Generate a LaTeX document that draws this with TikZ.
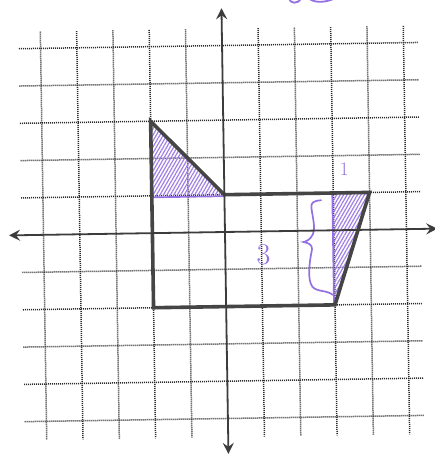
\documentclass[tikz,border=0pt]{standalone}
\usetikzlibrary{arrows.meta,patterns.meta}
\definecolor{gridc}{HTML}{2A2A2A}
\definecolor{axisc}{HTML}{3C3C3C}
\definecolor{polyc}{HTML}{454545}
\definecolor{purp}{HTML}{9470E2}
\tikzset{
  gridline/.style={gridc, line width=1.5pt, dash pattern=on 1pt off 1pt},
  axisline/.style={axisc, line width=1.8pt, -{Stealth[length=11pt,width=11pt,inset=4pt]}},
  polyline/.style={polyc, line width=3.6pt, line join=miter},
  purpline/.style={purp, line width=1.7pt, line cap=round},
  hatch/.style={pattern={Lines[angle=60,distance=3pt,line width=1.2pt]}, pattern color=purp!90},
  lbl/.style={purp, inner sep=0pt}
}
\begin{document}
\begin{tikzpicture}[x=36.3pt,y=37.3pt]
\useasboundingbox[fill=white] (-6.198,-5.952) rectangle (5.785,6.22);
\clip (-6.198,-5.952) rectangle (5.785,6.22);
\begin{scope}[rotate=0.9]
  % grid
  \foreach \i in {-5,...,-1,1,2,...,5} {
    \draw[gridline] (\i,5.45) -- (\i,-5.5);
    \draw[gridline] (-5.6,\i) -- (5.4,\i);
  }
  % shading
  \coordinate (A) at (-2,3);
  \coordinate (B) at (0,1);
  \coordinate (C) at (4,1);
  \coordinate (D) at (3,-2);
  \coordinate (E) at (-2,-2);
  \coordinate (F) at (-2,1);
  \coordinate (G) at (3,1);
  \fill[hatch] (A) -- (B) -- (F) -- cycle;
  \fill[hatch] (G) -- (C) -- (D) -- cycle;
  \draw[purpline] ([yshift=-1.5pt]F) -- ([yshift=-1.5pt]B);
  \draw[purpline] ([xshift=-1pt]G) -- ([xshift=-1pt]D);
  % brace
  \draw[purpline] (2.66,0.81) .. controls (2.45,0.8) and (2.38,0.75) .. (2.39,0.62)
     .. controls (2.42,0.35) and (2.5,0.1) .. (2.42,-0.1)
     .. controls (2.35,-0.25) and (2.2,-0.3) .. (2.16,-0.3)
     .. controls (2.3,-0.33) and (2.4,-0.38) .. (2.39,-0.5)
     .. controls (2.3,-0.9) and (2.25,-1.3) .. (2.38,-1.5)
     .. controls (2.5,-1.65) and (2.8,-1.6) .. (2.94,-1.73);
  % labels
  \node[lbl, font=\fontsize{30}{30}\selectfont] (three) at (1.05,-0.62) {3};
  \node[lbl, font=\fontsize{19}{19}\selectfont] (one) at (3.31,1.62) {1};
  % top scribble (cut off)
  \draw[purpline, line width=1.8pt] (1.85,6.25) .. controls (1.9,6.08) and (2.1,6.08) .. (2.2,6.22);
  \draw[purpline, line width=1.8pt] (2.45,6.2) .. controls (2.6,6.1) and (2.9,6.1) .. (3.2,6.25);
  % polygon
  \draw[polyline] (A) -- (B) -- (C) -- (D) -- (E) -- cycle;
  % axes
  \coordinate (xl) at (-5.95,0);
  \coordinate (xr) at (5.85,0);
  \coordinate (yt) at (0,6.0);
  \coordinate (yb) at (0,-5.95);
  \draw[axisline] (0,0) -- (xr);
  \draw[axisline] (0,0) -- (xl);
  \draw[axisline] (0,0) -- (yt);
  \draw[axisline] (0,0) -- (yb);
\end{scope}
\end{tikzpicture}
\end{document}
